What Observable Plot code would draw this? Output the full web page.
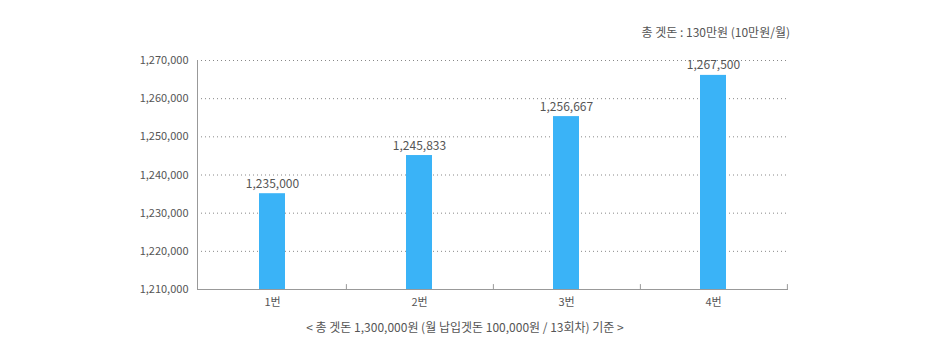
<!DOCTYPE html>
<html>
<head>
<meta charset="utf-8">
<script src="https://cdn.jsdelivr.net/npm/d3@7"></script>
<script src="https://cdn.jsdelivr.net/npm/@observablehq/plot@0.6"></script>
<style>
  body { margin: 0; background: #fff; width: 930px; font-family: "Noto Sans CJK KR", "Noto Sans", sans-serif; }
  #title { height: 45px; box-sizing: border-box; padding-top: 24px; padding-right: 140px; text-align: right; font-size: 12px; line-height: 16px; color: #555; }
  #caption { margin-top: 9px; text-align: center; font-size: 12px; line-height: 16px; color: #555; }
  svg { display: block; }
</style>
</head>
<body>
<div id="title">총 겟돈 : 130만원 (10만원/월)</div>
<div id="chart"></div>
<div id="caption">&lt; 총 겟돈 1,300,000원 (월 납입겟돈 100,000원 / 13회차) 기준 &gt;</div>
<script>
const categories = ["1번", "2번", "3번", "4번"];
// bar heights as drawn in the picture
const barValues = [1235100, 1245100, 1255300, 1266100];
// value labels printed above the bars
const valueLabels = ["1,235,000", "1,245,833", "1,256,667", "1,267,500"];
const yTicks = [1210000, 1220000, 1230000, 1240000, 1250000, 1260000, 1270000];

const data = categories.map((c, i) => ({cat: c, value: barValues[i], label: valueLabels[i]}));

const W = 930, H = 265;
const mL = 197, mR = 142, mT = 15, mB = 21;
const innerW = W - mL - mR;
const pInner = 0.82, pOuter = 0.41;
const step = innerW / (categories.length - pInner + 2 * pOuter);
const fmt = d3.format(",");
const font = '"Noto Sans CJK KR", "Noto Sans", sans-serif';

const tickShape = {
  draw(context, l) {
    context.moveTo(0, 0);
    context.lineTo(0, -l);
  }
};

const chart = Plot.plot({
  width: W,
  height: H,
  marginLeft: mL,
  marginRight: mR,
  marginTop: mT,
  marginBottom: mB,
  style: {fontFamily: font, fontSize: "11px", color: "#555", background: "#fff"},
  x: {domain: categories, paddingInner: pInner, paddingOuter: pOuter, label: null},
  y: {domain: [1210000, 1270000], label: null},
  marks: [
    Plot.gridY(yTicks, {stroke: "#888", strokeOpacity: 1, strokeDasharray: "1,3"}),
    Plot.axisY(yTicks, {tickSize: 0, tickPadding: 9, tickFormat: fmt, fill: "#555", fontSize: 11, label: null}),
    Plot.axisX({tickSize: 0, tickPadding: 9, fill: "#555", fontSize: 11, label: null}),
    Plot.barY(data, {x: "cat", y1: 1210000, y2: "value", fill: "#3ab3f7"}),
    Plot.text(data, {x: "cat", y: "value", text: "label", lineAnchor: "bottom", dy: -6, fontSize: 12, fill: "#555"}),
    Plot.frame({anchor: "left", stroke: "#999"}),
    Plot.ruleY([1210000], {stroke: "#999"}),
    Plot.vector(categories, {x: d => d, y: 1210000, length: 5, anchor: "start", shape: tickShape, dx: step / 2, stroke: "#999", strokeWidth: 1})
  ]
});
document.getElementById("chart").appendChild(chart);
</script>
</body>
</html>
